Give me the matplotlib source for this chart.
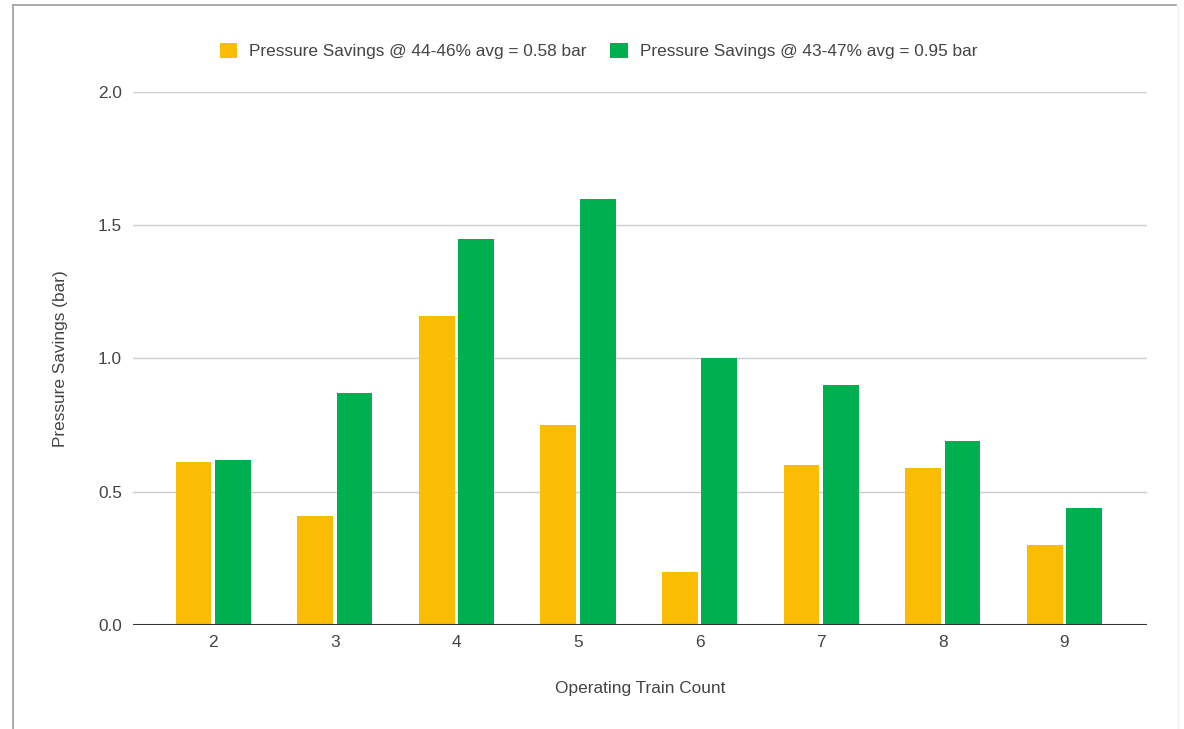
import numpy as np
import matplotlib.pyplot as plt
from matplotlib.lines import Line2D

# Pressure savings per operating train count
train_count = ['2', '3', '4', '5', '6', '7', '8', '9']
savings_44_46 = [0.61, 0.41, 1.16, 0.75, 0.20, 0.60, 0.59, 0.30]
savings_43_47 = [0.62, 0.87, 1.45, 1.60, 1.00, 0.90, 0.69, 0.44]
label_44_46 = 'Pressure Savings @ 44-46% avg = 0.58 bar'
label_43_47 = 'Pressure Savings @ 43-47% avg = 0.95 bar'

plt.rcParams['font.family'] = ['Liberation Sans', 'DejaVu Sans']
text_col = '#444444'
fs = 12.4

fig = plt.figure(figsize=(11.84, 7.29), dpi=100)
ax = fig.add_axes([0.1123, 0.1427, 0.8565, 0.7311])

x = np.arange(len(train_count))
w = 0.295
ax.bar(x - 0.162, savings_44_46, w, color='#fbbc04', label=label_44_46, zorder=3)
ax.bar(x + 0.162, savings_43_47, w, color='#00b050', label=label_43_47, zorder=3)

ax.set_xlim(-0.66, 7.68)
ax.set_ylim(0, 2.0)
ax.set_yticks([0, 0.5, 1.0, 1.5, 2.0])
ax.set_yticklabels(['0.0', '0.5', '1.0', '1.5', '2.0'])
ax.set_xticks(x)
ax.set_xticklabels(train_count)
ax.grid(axis='y', color='#cccccc', linewidth=1, zorder=0)
ax.axhline(0, color='#333333', linewidth=1.5, zorder=4)
for s in ax.spines.values():
    s.set_visible(False)
ax.tick_params(length=0, labelsize=fs, colors=text_col)
ax.tick_params(axis='y', pad=8)
ax.tick_params(axis='x', pad=7)

ax.set_xlabel('Operating Train Count', fontsize=fs, color=text_col, va='center')
ax.xaxis.set_label_coords(0.5, -0.119)
ax.set_ylabel('Pressure Savings (bar)', fontsize=fs, color=text_col, va='center')
ax.yaxis.set_label_coords(-0.071, 0.5)

ax.legend(loc='center', bbox_to_anchor=(0.459, 1.077), ncol=2, frameon=False,
          fontsize=fs, labelcolor=text_col, handlelength=1.0, handleheight=1.0,
          handletextpad=0.7, columnspacing=1.4)

# sheet border around the chart
fig.add_artist(Line2D([13 / 1184, 13 / 1184], [0, 1 - 5 / 729], transform=fig.transFigure,
                      color='#9e9e9e', linewidth=1.2))
fig.add_artist(Line2D([13 / 1184, 1176 / 1184], [1 - 5 / 729, 1 - 5 / 729], transform=fig.transFigure,
                      color='#9e9e9e', linewidth=1.2))
fig.add_artist(Line2D([1178 / 1184, 1178 / 1184], [0, 1 - 5 / 729], transform=fig.transFigure,
                      color='#eeeeee', linewidth=1))

fig.savefig('out.png', dpi=100)
